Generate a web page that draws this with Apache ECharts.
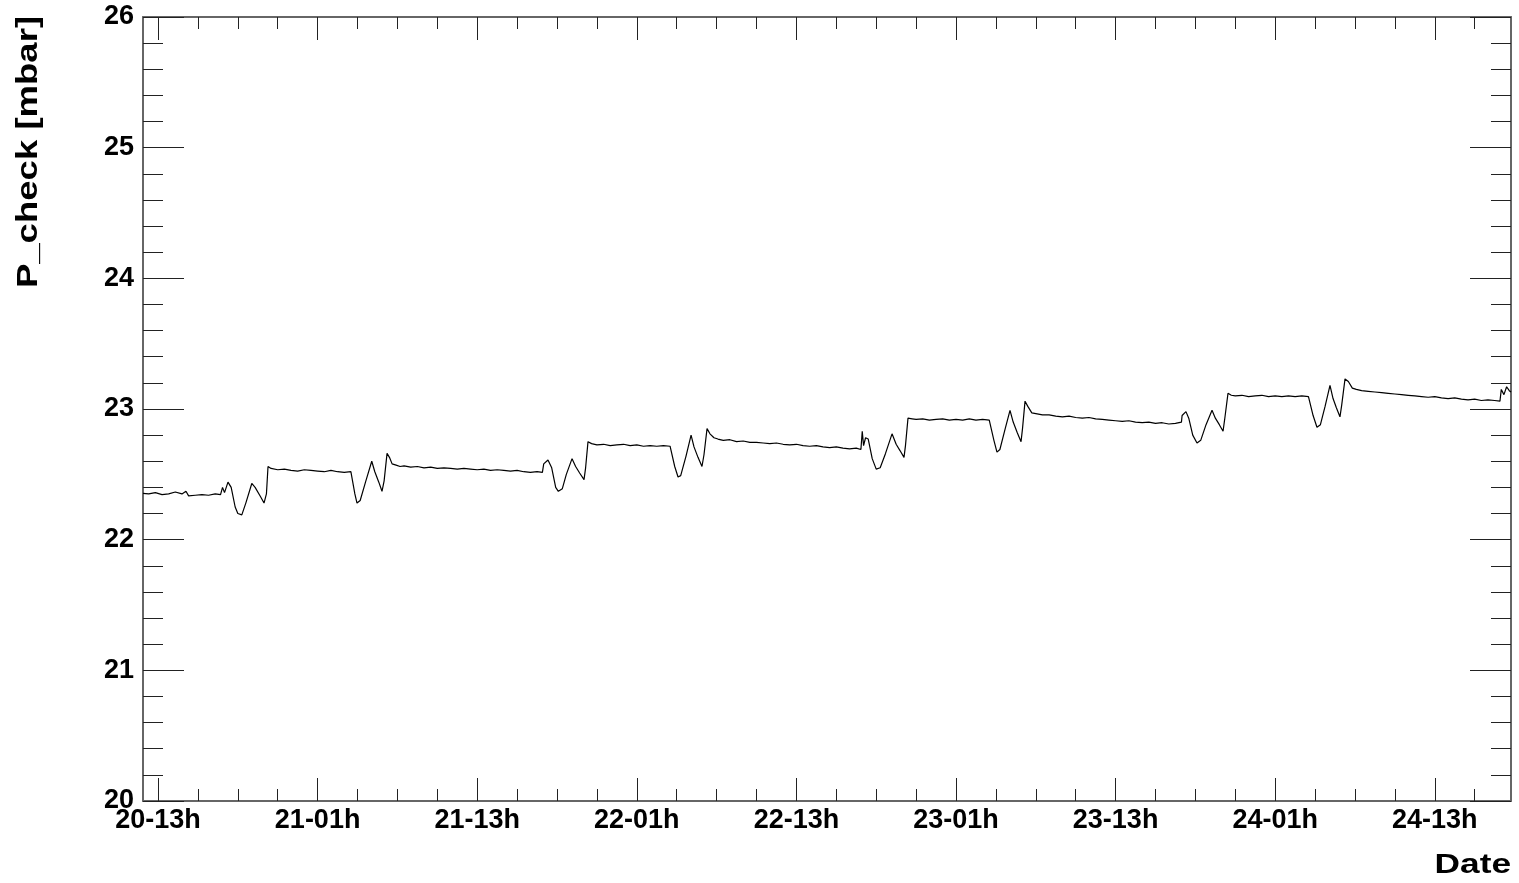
<!DOCTYPE html>
<html>
<head>
<meta charset="utf-8">
<script src="https://cdn.jsdelivr.net/npm/echarts@6/dist/echarts.min.js"></script>
<style>
html,body{margin:0;padding:0;background:#fff;}
#chart{width:1519px;height:883px;}
</style>
</head>
<body>
<div id="chart"></div>
<script>
// Time in hours since day 20, 00h
const X_MIN = 11.87;
const X_MAX = 114.73;
const MAJOR_TICKS = [13, 25, 37, 49, 61, 73, 85, 97, 109];
const MAJOR_LABELS = ['20-13h', '21-01h', '21-13h', '22-01h', '22-13h', '23-01h', '23-13h', '24-01h', '24-13h'];
const MINOR_TICKS = [13, 16, 19, 22, 25, 28, 31, 34, 37, 40, 43, 46, 49, 52, 55, 58, 61, 64, 67, 70, 73, 76, 79, 82, 85, 88, 91, 94, 97, 100, 103, 106, 109, 112];
const Y_MIN = 20;
const Y_MAX = 26;

const TIME_H = [
  11.87, 12.3, 12.8, 13.3, 13.8, 14.3, 14.8, 15.1, 15.3, 15.8, 16.3, 16.8, 17.3, 17.7,
  17.85, 18.0, 18.26, 18.5, 18.8, 19.0, 19.3, 19.6, 20.05, 20.3, 20.7, 20.97, 21.15, 21.27,
  21.5, 22.0, 22.5, 23.0, 23.5, 24.0, 24.5, 25.0, 25.5, 26.0, 26.5, 27.0, 27.5,
  27.59, 27.8, 27.96, 28.2, 28.6, 29.07, 29.3, 29.6, 29.84, 30.0, 30.22, 30.4, 30.6,
  30.9, 31.2, 31.5, 32.0, 32.5, 33.0, 33.5, 34.0, 34.5, 35.0, 35.5, 36.0, 36.5, 37.0, 37.5, 38.0, 38.5, 39.0, 39.5, 40.0, 40.5, 41.0, 41.5, 41.9,
  42.0, 42.32, 42.6, 42.9, 43.1, 43.4, 43.7, 44.13, 44.4, 44.7, 45.03, 45.15, 45.33,
  45.6, 46.0, 46.5, 47.0, 47.5, 48.0, 48.5, 49.0, 49.5, 50.0, 50.5, 51.0, 51.5,
  51.65, 51.85, 52.1, 52.3, 52.7, 53.08, 53.3, 53.6, 53.9, 54.05, 54.28, 54.5, 54.8,
  55.1, 55.5, 56.0, 56.5, 57.0, 57.5, 58.0, 58.5, 59.0, 59.5, 60.0, 60.5, 61.0, 61.5, 62.0, 62.5, 63.0, 63.5, 64.0, 64.5, 65.0, 65.5, 65.85,
  65.95, 66.05, 66.2, 66.4, 66.7, 67.0, 67.3, 67.7, 68.19, 68.5, 68.8, 69.09, 69.2, 69.39,
  69.7, 70.0, 70.5, 71.0, 71.5, 72.0, 72.5, 73.0, 73.5, 74.0, 74.5, 75.0, 75.5,
  75.63, 75.85, 76.08, 76.3, 76.7, 77.06, 77.3, 77.6, 77.89, 78.0, 78.19, 78.4, 78.7,
  79.0, 79.5, 80.0, 80.5, 81.0, 81.5, 82.0, 82.5, 83.0, 83.5, 84.0, 84.5, 85.0, 85.5, 86.0, 86.5, 87.0, 87.5, 88.0, 88.5, 89.0, 89.5, 89.95,
  90.0, 90.29, 90.5, 90.8, 91.12, 91.4, 91.8, 92.25, 92.5, 92.8, 93.08, 93.2, 93.45,
  93.7, 94.0, 94.5, 95.0, 95.5, 96.0, 96.5, 97.0, 97.5, 98.0, 98.5, 99.0, 99.5,
  99.62, 99.85, 100.14, 100.4, 100.75, 101.12, 101.35, 101.6, 101.87, 102.0, 102.25, 102.5, 102.8,
  103.1, 103.5, 104.0, 104.5, 105.0, 105.5, 106.0, 106.5, 107.0, 107.5, 108.0, 108.5, 109.0, 109.5, 110.0, 110.5, 111.0, 111.5, 112.0, 112.5, 113.0, 113.5, 113.9,
  114.0, 114.2, 114.4, 114.6, 114.73
];

const P_CHECK = [
  22.355, 22.35, 22.36, 22.345, 22.35, 22.365, 22.35, 22.37, 22.335, 22.34, 22.345, 22.34, 22.35, 22.345,
  22.40, 22.36, 22.44, 22.40, 22.25, 22.20, 22.19, 22.28, 22.43, 22.40, 22.33, 22.28, 22.35, 22.56,
  22.545, 22.535, 22.54, 22.53, 22.525, 22.535, 22.53, 22.525, 22.52, 22.53, 22.52, 22.515, 22.52,
  22.52, 22.35, 22.28, 22.30, 22.44, 22.60, 22.52, 22.44, 22.37, 22.45, 22.66, 22.63, 22.58,
  22.57, 22.56, 22.565, 22.555, 22.56, 22.55, 22.555, 22.545, 22.55, 22.545, 22.54, 22.545, 22.54, 22.535, 22.54, 22.53, 22.535, 22.53, 22.525, 22.53, 22.52, 22.515, 22.52, 22.515,
  22.58, 22.61, 22.55, 22.40, 22.37, 22.39, 22.50, 22.62, 22.56, 22.51, 22.46, 22.55, 22.75,
  22.735, 22.725, 22.73, 22.72, 22.725, 22.73, 22.72, 22.725, 22.715, 22.72, 22.715, 22.72, 22.715,
  22.71, 22.56, 22.48, 22.49, 22.64, 22.80, 22.71, 22.63, 22.56, 22.65, 22.85, 22.81, 22.78,
  22.77, 22.76, 22.765, 22.75, 22.755, 22.745, 22.745, 22.74, 22.735, 22.74, 22.73, 22.725, 22.73, 22.72, 22.715, 22.72, 22.71, 22.705, 22.71, 22.70, 22.695, 22.70, 22.69,
  22.83, 22.72, 22.78, 22.77, 22.62, 22.54, 22.55, 22.66, 22.81, 22.73, 22.68, 22.63, 22.72, 22.93,
  22.925, 22.92, 22.925, 22.915, 22.92, 22.925, 22.915, 22.92, 22.915, 22.925, 22.915, 22.92, 22.915,
  22.92, 22.76, 22.67, 22.69, 22.85, 22.99, 22.90, 22.82, 22.75, 22.85, 23.06, 23.02, 22.97,
  22.965, 22.955, 22.955, 22.945, 22.94, 22.945, 22.935, 22.93, 22.935, 22.925, 22.92, 22.915, 22.91, 22.905, 22.91, 22.90, 22.895, 22.90, 22.89, 22.895, 22.885, 22.89, 22.90,
  22.95, 22.98, 22.93, 22.80, 22.74, 22.76, 22.88, 22.99, 22.93, 22.88, 22.83, 22.92, 23.12,
  23.105, 23.10, 23.105, 23.095, 23.10, 23.105, 23.095, 23.10, 23.095, 23.10, 23.095, 23.10, 23.095,
  23.09, 22.95, 22.86, 22.88, 23.02, 23.18, 23.08, 23.01, 22.94, 23.03, 23.23, 23.21, 23.16,
  23.15, 23.14, 23.135, 23.13, 23.125, 23.12, 23.115, 23.11, 23.105, 23.10, 23.095, 23.09, 23.095, 23.085, 23.08, 23.085, 23.075, 23.07, 23.075, 23.065, 23.07, 23.065, 23.06,
  23.15, 23.11, 23.17, 23.14, 23.13
];

const Y_TITLE = 'P_check [mbar]';
const X_TITLE = 'Date';

const seriesData = TIME_H.map((t, i) => [t, P_CHECK[i]]);

const FRAME = '#666';
const TICK = '#222';
const FONT = '"Liberation Sans", Arial, Helvetica, sans-serif';

function xAxisDef(pos, ticks, len, showLine, showLabel) {
  return {
    type: 'value', position: pos, min: X_MIN, max: X_MAX,
    axisLine: { show: showLine, lineStyle: { color: FRAME, width: 2 } },
    axisTick: { show: true, inside: true, length: len, customValues: ticks, lineStyle: { color: TICK, width: 1 } },
    axisLabel: {
      show: showLabel, customValues: MAJOR_TICKS, margin: 6,
      formatter: v => { const i = MAJOR_TICKS.indexOf(Math.round(v)); return i >= 0 ? MAJOR_LABELS[i] : ''; },
      fontFamily: FONT, fontWeight: 'bold', fontSize: 27, color: '#000'
    },
    splitLine: { show: false }
  };
}

function yAxisDef(pos, showLabel) {
  return {
    type: 'value', position: pos, min: Y_MIN, max: Y_MAX, interval: 1,
    axisLine: { show: true, lineStyle: { color: FRAME, width: 2 } },
    axisTick: { show: true, inside: true, length: 41, lineStyle: { color: TICK, width: 1 } },
    minorTick: { show: true, splitNumber: 5, length: 20, lineStyle: { color: TICK, width: 1 } },
    axisLabel: { show: showLabel, margin: 9, fontFamily: FONT, fontWeight: 'bold', fontSize: 27, color: '#000' },
    splitLine: { show: false }, minorSplitLine: { show: false }
  };
}

const chart = echarts.init(document.getElementById('chart'), null, { renderer: 'canvas' });
chart.setOption({
  animation: false,
  backgroundColor: '#fff',
  grid: { left: 143, right: 8, top: 17, bottom: 82, containLabel: false },
  xAxis: [
    xAxisDef('bottom', MAJOR_TICKS, 23, true, true),
    xAxisDef('bottom', MINOR_TICKS, 12, false, false),
    xAxisDef('top', MAJOR_TICKS, 23, true, false),
    xAxisDef('top', MINOR_TICKS, 12, false, false)
  ],
  yAxis: [yAxisDef('left', true), yAxisDef('right', false)],
  graphic: [
    {
      type: 'text', x: 29, y: 152, rotation: Math.PI / 2, scaleX: 1.26,
      style: { text: Y_TITLE, font: 'bold 29px ' + FONT, fill: '#000', textAlign: 'center', textVerticalAlign: 'middle' }
    },
    {
      type: 'text', x: 1511, y: 865, scaleX: 1.26,
      style: { text: X_TITLE, font: 'bold 28px ' + FONT, fill: '#000', textAlign: 'right', textVerticalAlign: 'middle' }
    }
  ],
  series: [{
    type: 'line', xAxisIndex: 0, yAxisIndex: 0, data: seriesData,
    showSymbol: false, symbol: 'none', lineStyle: { color: '#000', width: 1.2 }
  }]
});
</script>
</body>
</html>
